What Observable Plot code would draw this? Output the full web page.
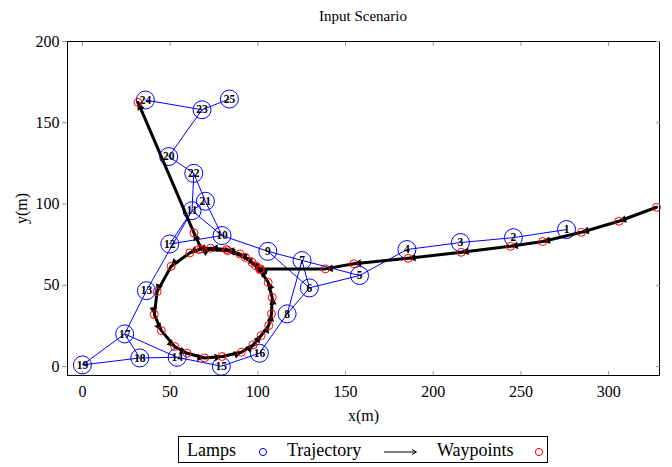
<!DOCTYPE html>
<html>
<head>
<meta charset="utf-8">
<script src="https://cdn.jsdelivr.net/npm/d3@7"></script>
<script src="https://cdn.jsdelivr.net/npm/@observablehq/plot@0.6"></script>
<style>
  body { margin: 0; background: #fff; font-family: "Liberation Serif", serif; }
  #wrap { position: relative; width: 672px; height: 467px; overflow: hidden; }
  #title { position: absolute; left: 67px; width: 592px; top: 7px; text-align: center; font-size: 15px; line-height: 18px; }
  #chart { position: absolute; left: 0; top: 30px; }
  #legend { position: absolute; left: 178px; top: 436px; width: 370px; height: 27px; border: 1px solid #000; box-sizing: border-box; font-size: 18px; }
  #legend .t { position: absolute; top: 3px; line-height: 20px; white-space: nowrap; }
  #legend svg { position: absolute; top: 0; }
</style>
</head>
<body>
<div id="wrap">
  <div id="title">Input Scenario</div>
  <div id="chart"></div>
  <div id="legend">
    <span class="t" style="left:8px">Lamps</span>
    <svg style="left:78px" width="12" height="27"><circle cx="6" cy="15" r="3.6" fill="none" stroke="#0000ff" stroke-width="1"/></svg>
    <span class="t" style="left:108px">Trajectory</span>
    <svg style="left:204px" width="36" height="27"><path d="M1,15H33" stroke="#000" stroke-width="1" fill="none"/><path d="M29,12.5L33.5,15L29,17.5" stroke="#000" stroke-width="1" fill="none"/></svg>
    <span class="t" style="left:258px">Waypoints</span>
    <svg style="left:354px" width="12" height="27"><circle cx="6" cy="15" r="3.6" fill="none" stroke="#ff0000" stroke-width="1"/></svg>
  </div>
</div>
<script>
// ---- data ----
const xTicks = [0, 50, 100, 150, 200, 250, 300];
const yTicks = [0, 50, 100, 150, 200];

const lampId = [1, 2, 3, 4, 5, 6, 7, 8, 9, 10, 11, 12, 13, 14, 15, 16, 17, 18, 19, 20, 21, 22, 23, 24, 25];
const lampX  = [276, 245.7, 215.5, 185, 158, 129.4, 125.2, 116.7, 105.7, 79.6, 62.5, 49.8, 36.5, 54, 79.2, 100.9, 24.1, 32.7, 0, 49.2, 70.1, 63.5, 68.2, 35.9, 83.8];
const lampY  = [84.3, 79.3, 76.3, 72, 56, 48.4, 65.2, 32.4, 70.9, 80.6, 95.9, 75.4, 46.7, 5.7, 0.2, 8.2, 20.1, 5.3, 1, 129.2, 101.7, 118.9, 158, 164, 164.6];

const edgeFrom = [1, 2, 3, 4, 5, 5, 6, 6, 7, 6, 8, 16, 15, 14, 14, 18, 18, 17, 17, 13, 12, 12, 10, 11, 11, 21, 22, 22, 22, 20, 23, 23];
const edgeTo   = [2, 3, 4, 5, 9, 6, 9, 7, 8, 8, 16, 15, 14, 17, 18, 19, 17, 19, 13, 11, 11, 10, 9, 10, 21, 10, 21, 11, 20, 23, 24, 25];

const wpX = [327.3, 305.8, 284.5, 262.4, 244, 216, 185.7, 154.7, 138.5,
             101.5, 96.7, 89.7, 82.1, 73, 66.3, 61.2, 50.6, 42.6, 41, 45, 52.6, 59.7, 69.7, 79.6, 90.6, 97.3, 101.9, 106.2, 107.8, 108.2, 105.9,
             101.2, 98.6, 92.9, 82.8, 67.8, 63.6, 31.7];
const wpY = [98, 89.4, 82.6, 76.9, 74, 70.3, 66.6, 63.2, 60.1,
             60.1, 64.1, 69.3, 72, 72.8, 72, 69.9, 61.7, 46.1, 32, 22.1, 12.3, 8.2, 5.3, 6.2, 8.8, 13.3, 19.1, 25.2, 32.4, 42.6, 51.8,
             59.6, 62.1, 67.2, 71.3, 72.4, 82.2, 162.5];

// ---- derived tables ----
const lamps = lampId.map((id, i) => ({id, x: lampX[i], y: lampY[i]}));
const byId = new Map(lamps.map(d => [d.id, d]));
const edges = edgeFrom.map((a, i) => ({a: byId.get(a), b: byId.get(edgeTo[i])}));
const wps = wpX.map((x, i) => ({x, y: wpY[i]}));

const font = '"Liberation Serif", serif';

const plot = Plot.plot({
  width: 672,
  height: 400,
  marginLeft: 67,
  marginRight: 13,
  marginTop: 11,
  marginBottom: 55,
  style: {fontFamily: font, fontSize: "16px", background: "white", overflow: "visible"},
  x: {domain: [-8.5, 329], ticks: xTicks, label: null},
  y: {domain: [-5.5, 200], ticks: yTicks, label: null},
  marks: [
    Plot.link(edges, {x1: d => d.a.x, y1: d => d.a.y, x2: d => d.b.x, y2: d => d.b.y, stroke: "#0000ff", strokeWidth: 1}),
    Plot.dot(lamps, {x: "x", y: "y", r: 9, stroke: "#0000ff", fill: "none", strokeWidth: 1}),
    Plot.text(lamps, {x: "x", y: "y", text: "id", fontWeight: "bold", fontSize: 11.5, fill: "black", fontFamily: font}),
    Plot.line(wps, {x: "x", y: "y", stroke: "black", strokeWidth: 3, markerMid: "arrow", markerEnd: "arrow"}),
    Plot.dot(wps, {x: "x", y: "y", r: 4, stroke: "#ff0000", fill: "none", strokeWidth: 1}),
    Plot.frame({stroke: "black", strokeWidth: 1}),
    Plot.axisX({ticks: xTicks, anchor: "bottom", tickSize: -4, tickPadding: 14, stroke: "#999", label: "x(m)", labelAnchor: "center", labelOffset: 45, labelArrow: "none"}),
    Plot.axisX({ticks: xTicks, anchor: "top", tickSize: -4, stroke: "#999", tickFormat: () => "", label: null}),
    Plot.axisY({ticks: yTicks, anchor: "left", tickSize: 5, tickPadding: 3, stroke: "#999", label: "y(m)", labelAnchor: "center", labelOffset: 52, labelArrow: "none"}),
    Plot.axisY({ticks: yTicks, anchor: "right", tickSize: -4, stroke: "#999", tickFormat: () => "", label: null})
  ]
});

// filled triangular arrowheads for the trajectory
plot.querySelectorAll("marker").forEach(m => {
  const color = m.getAttribute("stroke") || "black";
  m.setAttribute("viewBox", "-8 -5 10 10");
  m.setAttribute("markerWidth", "3.5");
  m.setAttribute("markerHeight", "3.5");
  m.setAttribute("fill", color);
  m.setAttribute("stroke", "none");
  while (m.firstChild) m.removeChild(m.firstChild);
  const p = document.createElementNS("http://www.w3.org/2000/svg", "path");
  p.setAttribute("d", "M-7,-3.5L0.5,0L-7,3.5Z");
  m.appendChild(p);
});

document.getElementById("chart").appendChild(plot);
</script>
</body>
</html>
